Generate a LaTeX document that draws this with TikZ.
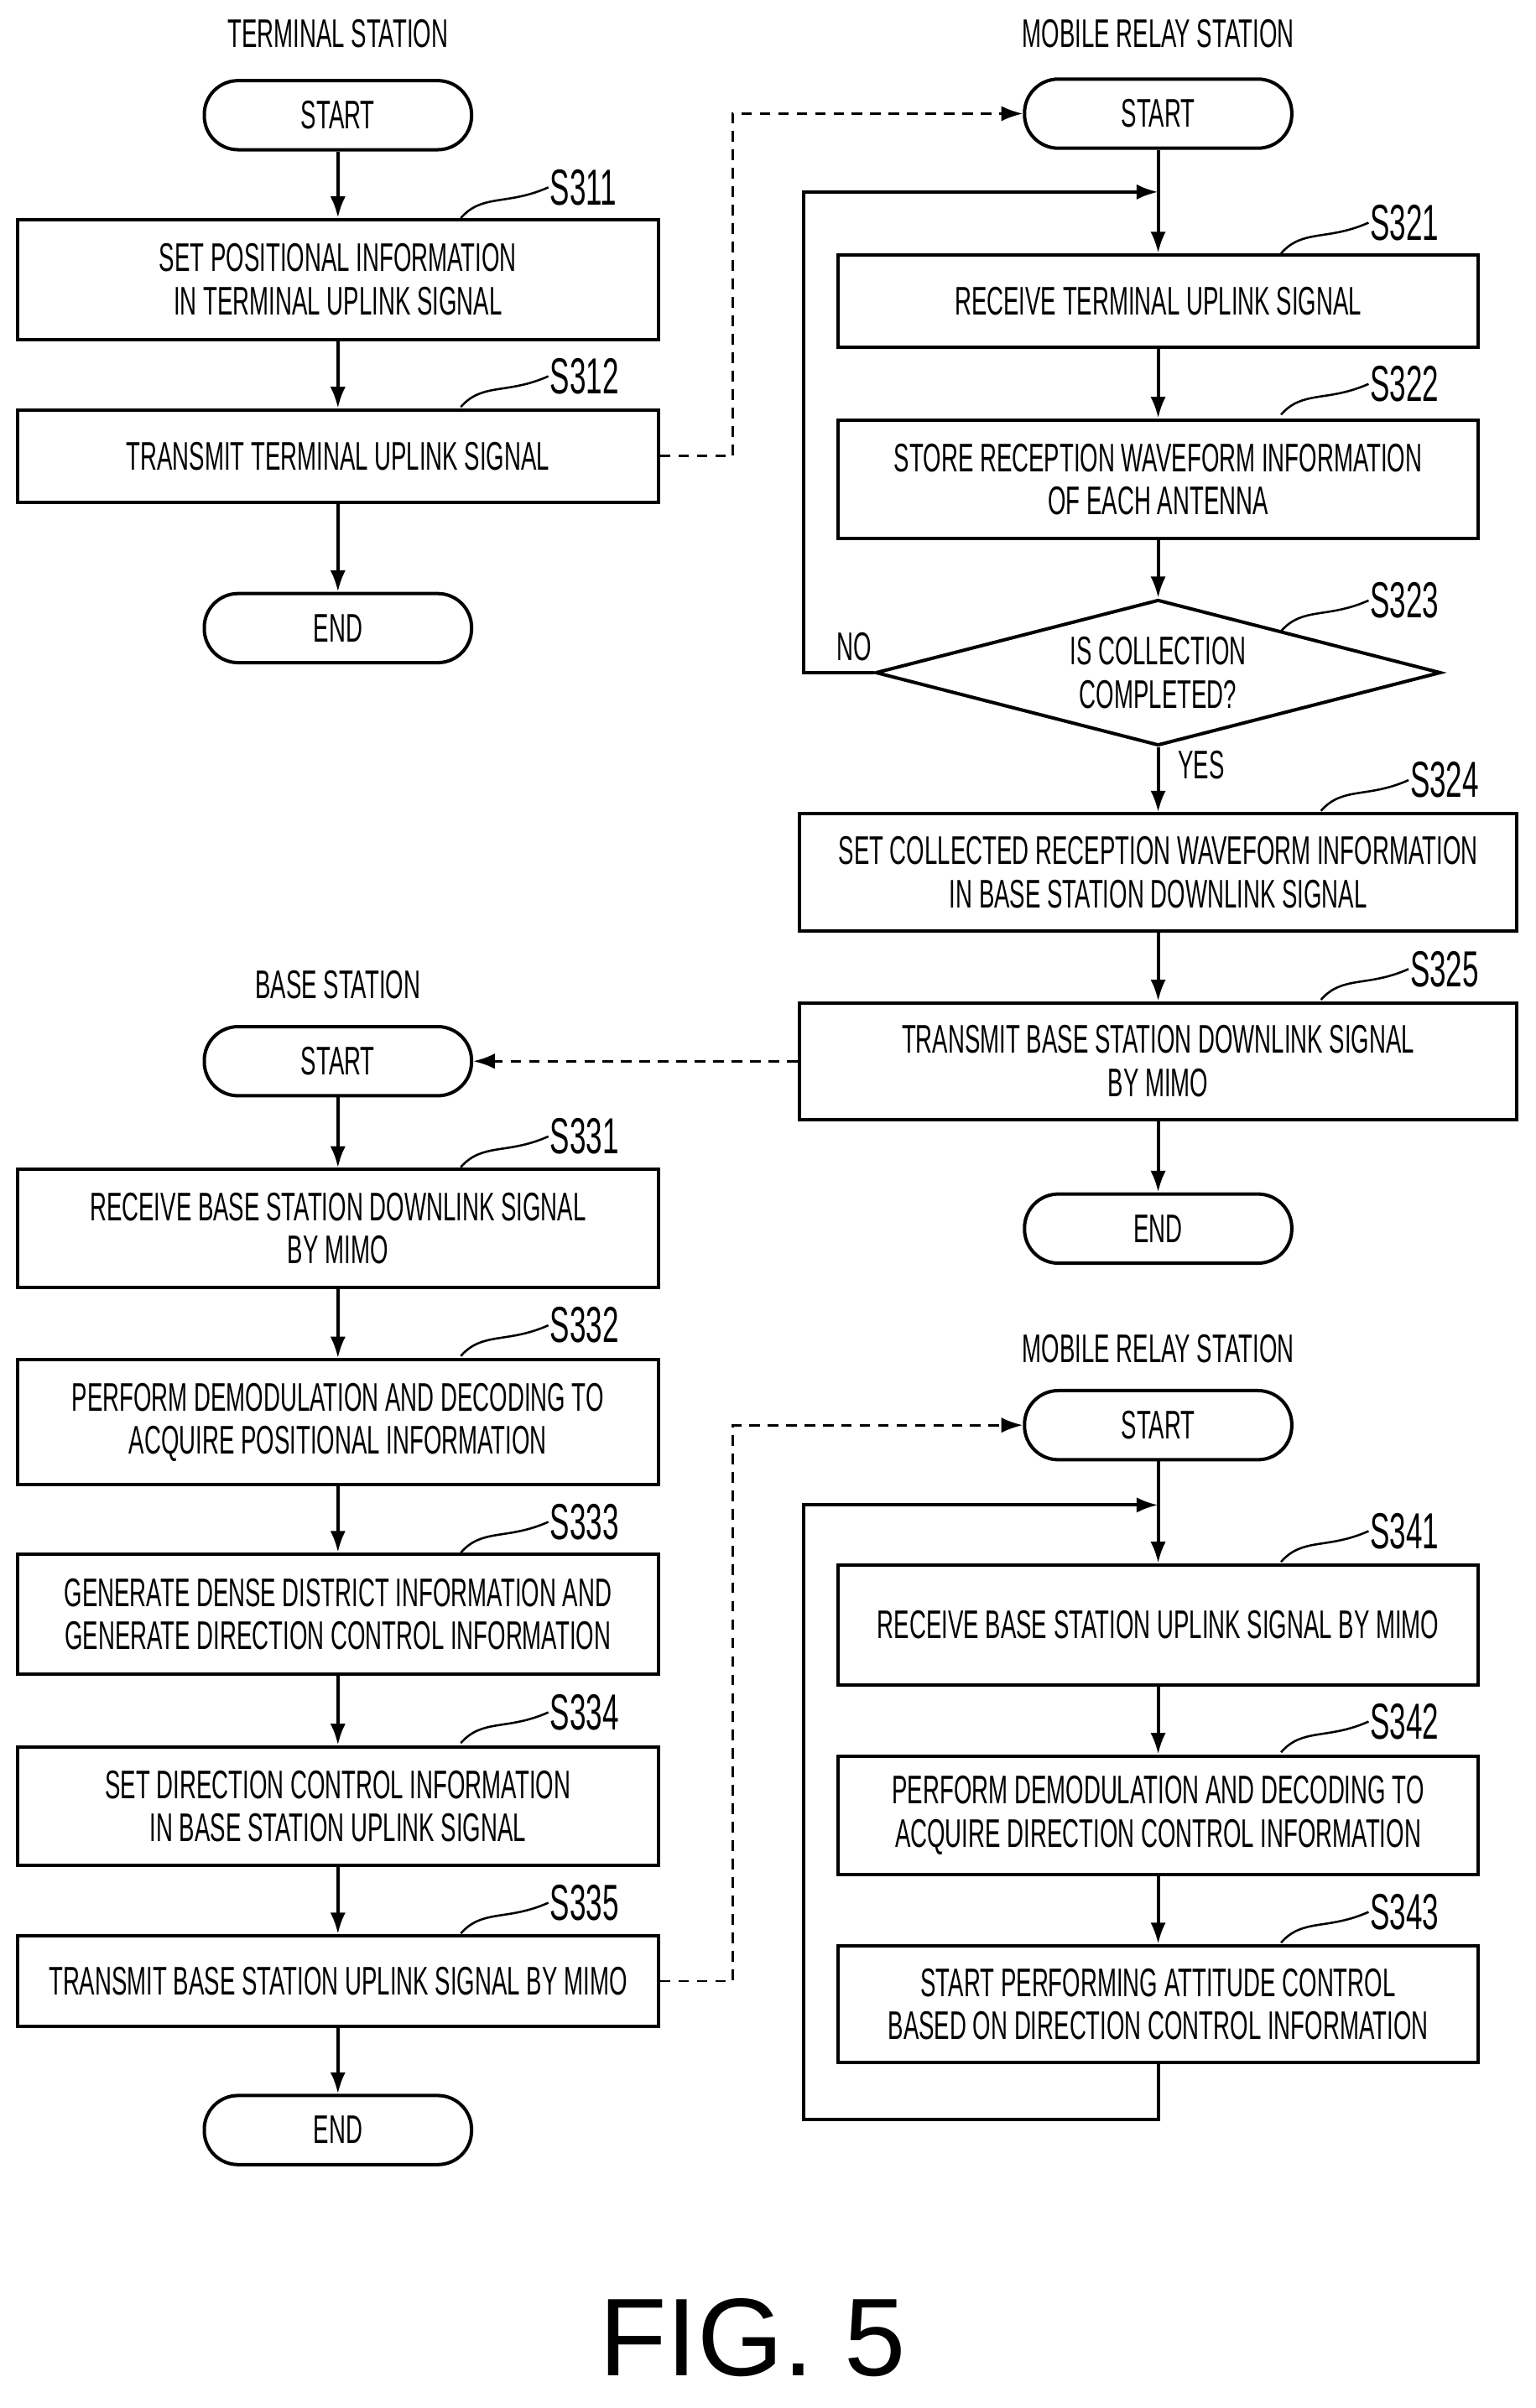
\documentclass[tikz,border=0pt]{standalone}
\usepackage{fontspec}
\setmainfont{Liberation Sans}[FakeStretch=0.58]
\newfontfamily\figfont{Liberation Sans}
\usetikzlibrary{shapes.geometric,arrows.meta}
\begin{document}
\begin{tikzpicture}[x=1pt,y=-1pt,line width=2.2pt,
  every node/.style={font=\fontsize{26}{28}\selectfont,align=center,inner sep=0pt},
  box/.style={draw,minimum width=417pt},
  term/.style={draw,rounded corners=22pt,minimum width=174pt,minimum height=45pt},
  dia/.style={draw,diamond,aspect=3.9,minimum width=368pt,minimum height=95pt},
  lab/.style={font=\fontsize{33}{33}\selectfont,anchor=west},
  hdr/.style={font=\fontsize{26}{28}\selectfont},
  arr/.style={-{Latex[length=14pt,width=10pt]}},
  dsh/.style={dashed,dash pattern=on 7pt off 5pt,line width=1.6pt,-{Latex[length=14pt,width=10pt]}},
  tl/.style={line width=1.4pt}]
\useasboundingbox (0,0) rectangle (1000,1568);
% terminal station
\node[hdr] (h1) at (220,22) {TERMINAL STATION};
\node[term] (t1) at (220,75) {START};
\node[box,minimum height=78pt] (s311) at (220,182) {SET POSITIONAL INFORMATION\\IN TERMINAL UPLINK SIGNAL};
\node[box,minimum height=60pt] (s312) at (220,297) {TRANSMIT TERMINAL UPLINK SIGNAL};
\node[term] (e1) at (220,409) {END};
\draw[arr] (t1) -- (s311);
\draw[arr] (s311) -- (s312);
\draw[arr] (s312) -- (e1);
% mobile relay 1
\node[hdr] (h2) at (754,22) {MOBILE RELAY STATION};
\node[term] (t2) at (754,74) {START};
\node[box,minimum height=60pt] (s321) at (754,196) {RECEIVE TERMINAL UPLINK SIGNAL};
\node[box,minimum height=77pt] (s322) at (754,312) {STORE RECEPTION WAVEFORM INFORMATION\\OF EACH ANTENNA};
\node[dia] (s323) at (754,438) {IS COLLECTION\\COMPLETED?};
\node[box,minimum width=467pt,minimum height=76pt] (s324) at (754,568) {SET COLLECTED RECEPTION WAVEFORM INFORMATION\\IN BASE STATION DOWNLINK SIGNAL};
\node[box,minimum width=467pt,minimum height=76pt] (s325) at (754,691) {TRANSMIT BASE STATION DOWNLINK SIGNAL\\BY MIMO};
\node[term] (e2) at (754,800) {END};
\coordinate (j1) at (754,125);
\draw (t2) -- (j1);
\draw[arr] (j1) -- (s321);
\draw[arr] (s321) -- (s322);
\draw[arr] (s322) -- (s323);
\draw[arr] (s323.west) -- (523,438) -- (523,125) -- (j1);
\draw[arr] (s323) -- (s324);
\draw[arr] (s324) -- (s325);
\draw[arr] (s325) -- (e2);
\node (no) at (556,421) {NO};
\node (yes) at (782,498) {YES};
\draw[dsh] (s312.east) -- (477,297) -- (477,74) -- (t2.west);
% base station
\node[hdr] (h3) at (220,641) {BASE STATION};
\node[term] (t3) at (220,691) {START};
\node[box,minimum height=77pt] (s331) at (220,800) {RECEIVE BASE STATION DOWNLINK SIGNAL\\BY MIMO};
\node[box,minimum height=81pt] (s332) at (220,926) {PERFORM DEMODULATION AND DECODING TO\\ACQUIRE POSITIONAL INFORMATION};
\node[box,minimum height=78pt] (s333) at (220,1051) {GENERATE DENSE DISTRICT INFORMATION AND\\GENERATE DIRECTION CONTROL INFORMATION};
\node[box,minimum height=77pt] (s334) at (220,1176) {SET DIRECTION CONTROL INFORMATION\\IN BASE STATION UPLINK SIGNAL};
\node[box,minimum height=59pt] (s335) at (220,1290) {TRANSMIT BASE STATION UPLINK SIGNAL BY MIMO};
\node[term] (e3) at (220,1387) {END};
\draw[arr] (t3) -- (s331);
\draw[arr] (s331) -- (s332);
\draw[arr] (s332) -- (s333);
\draw[arr] (s333) -- (s334);
\draw[arr] (s334) -- (s335);
\draw[arr] (s335) -- (e3);
\draw[dsh] (s325.west) -- (t3.east);
% mobile relay 2
\node[hdr] (h4) at (754,878) {MOBILE RELAY STATION};
\node[term] (t4) at (754,928) {START};
\node[box,minimum height=78pt] (s341) at (754,1058) {RECEIVE BASE STATION UPLINK SIGNAL BY MIMO};
\node[box,minimum height=77pt] (s342) at (754,1182) {PERFORM DEMODULATION AND DECODING TO\\ACQUIRE DIRECTION CONTROL INFORMATION};
\node[box,minimum height=76pt] (s343) at (754,1305) {START PERFORMING ATTITUDE CONTROL\\BASED ON DIRECTION CONTROL INFORMATION};
\coordinate (j2) at (754,980);
\draw (t4) -- (j2);
\draw[arr] (j2) -- (s341);
\draw[arr] (s341) -- (s342);
\draw[arr] (s342) -- (s343);
\draw[arr] (s343.south) -- (754,1380) -- (523,1380) -- (523,980) -- (j2);
\draw[dsh] (s335.east) -- (477,1290) -- (477,928) -- (t4.west);
% step labels
\foreach \n/\x/\y/\bx in {S311/357/122/300,S312/357/245/300,S321/891/145/834,S322/891/250/834,S323/891/391/834,S324/917/508/860,S325/917/631/860,S331/357/740/300,S332/357/863/300,S333/357/991/300,S334/357/1115/300,S335/357/1239/300,S341/891/997/834,S342/891/1121/834,S343/891/1245/834}{
  \node[lab] (l\n) at (\x,\y) {\n};
  \draw[tl] (\bx,\y+20) .. controls (\bx+14,\y+4) and (\bx+30,\y+12) .. (l\n.west);
}
\node[font=\figfont\fontsize{72}{72}\selectfont] (fig) at (490,1522) {FIG. 5};
\end{tikzpicture}
\end{document}
